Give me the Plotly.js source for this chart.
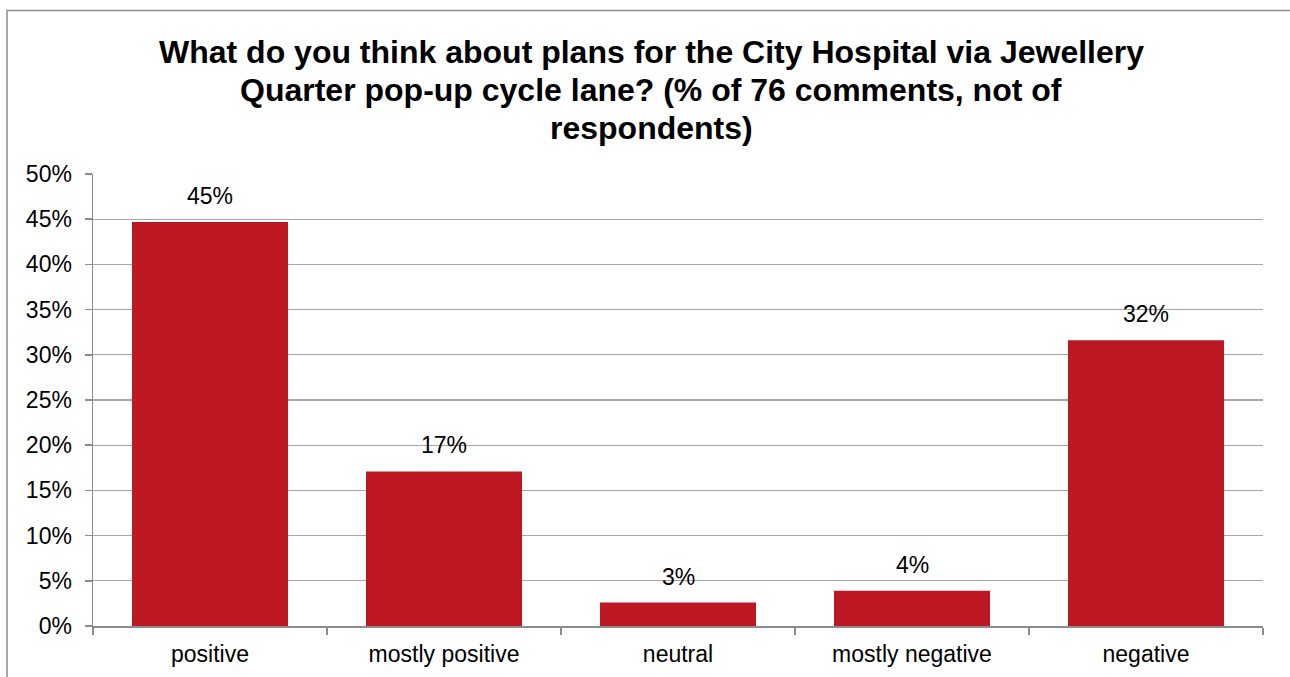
<!DOCTYPE html>
<html>
<head>
<meta charset="utf-8">
<script src="https://cdn.plot.ly/plotly-3.0.1.min.js"></script>
<style>html,body{margin:0;padding:0;background:#fff;}#chart{width:1290px;height:677px;}</style>
</head>
<body>
<div id="chart"></div>
<script>
var categories = ["positive", "mostly positive", "neutral", "mostly negative", "negative"];
var percentValues = [44.7, 17.1, 2.6, 3.9, 31.6];
var titleLines = [
  "What do you think about plans for the City Hospital via Jewellery",
  "Quarter pop-up cycle lane? (% of 76 comments, not of",
  "respondents)"
];
var yTickValues = [0, 5, 10, 15, 20, 25, 30, 35, 40, 45, 50];

var FONT = "Arial, 'Liberation Sans', sans-serif";
var plotTop = 174, plotBottom = 626, plotH = plotBottom - plotTop;
var plotLeft = 93, plotRight = 1263, plotW = plotRight - plotLeft;
function py(pix){ return (plotBottom - pix) / plotH; }
function px(pix){ return (pix - plotLeft) / plotW; }

var trace = {
  type: "bar",
  x: categories,
  y: percentValues,
  marker: {color: "#BD1722", line: {width: 0}},
  hoverinfo: "x+y",
  showlegend: false
};

var annotations = [];
var titleY = [52, 90, 128];
titleLines.forEach(function(t, i){
  annotations.push({
    text: t, xref: "paper", yref: "paper", x: px(651), y: py(titleY[i]),
    xanchor: "center", yanchor: "middle", showarrow: false,
    font: {family: FONT, size: 32, color: "#000", weight: "bold"}
  });
});
categories.forEach(function(c, i){
  annotations.push({
    text: Math.round(percentValues[i]) + "%", x: c, y: percentValues[i],
    xref: "x", yref: "y", xanchor: "center", yanchor: "bottom",
    yshift: 11, showarrow: false,
    font: {family: FONT, size: 23, color: "#000"}
  });
});

var layout = {
  width: 1290, height: 677,
  margin: {l: plotLeft, r: 1290 - plotRight, t: plotTop, b: 677 - plotBottom, pad: 0},
  paper_bgcolor: "#fff", plot_bgcolor: "#fff",
  font: {family: FONT, size: 23, color: "#000"},
  bargap: 1/3,
  xaxis: {
    type: "category",
    showline: true, linecolor: "#8C8C8C", linewidth: 1.5,
    ticks: "outside", tickson: "boundaries", ticklen: 7, tickcolor: "#8C8C8C", tickwidth: 1.5,
    ticklabelstandoff: 7,
    showgrid: false, zeroline: false,
    tickfont: {family: FONT, size: 23, color: "#000"},
    fixedrange: true
  },
  yaxis: {
    range: [0, 50], tickvals: yTickValues, ticktext: yTickValues.map(function(v){return v + "%";}),
    showline: true, linecolor: "#8C8C8C", linewidth: 1.5,
    ticks: "outside", ticklen: 7, tickcolor: "#8C8C8C", tickwidth: 1.5,
    ticklabelstandoff: 8,
    showgrid: true, gridcolor: "#A6A6A6", gridwidth: 1.3,
    zeroline: false,
    tickfont: {family: FONT, size: 23, color: "#000"},
    fixedrange: true
  },
  annotations: annotations,
  shapes: [{
    type: "rect", xref: "paper", yref: "paper",
    x0: px(7), x1: px(1300), y0: py(690), y1: py(10.5),
    line: {color: "#8C8C8C", width: 1.5}, fillcolor: "rgba(0,0,0,0)", layer: "above"
  }]
};

Plotly.newPlot("chart", [trace], layout, {displayModeBar: false, staticPlot: true});
</script>
</body>
</html>
